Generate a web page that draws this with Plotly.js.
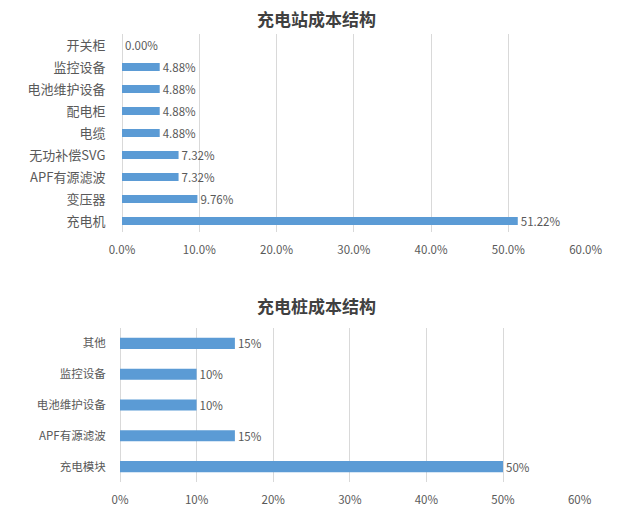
<!DOCTYPE html>
<html>
<head>
<meta charset="utf-8">
<script src="https://cdn.plot.ly/plotly-3.0.1.min.js"></script>
<style>
  html, body { margin: 0; padding: 0; background: #fff; }
  #chart { width: 640px; height: 517px; }
</style>
</head>
<body>
<div id="chart"></div>
<script>
// 充电站成本结构 (top chart), listed top to bottom
const stationItems = ['开关柜', '监控设备', '电池维护设备', '配电柜', '电缆', '无功补偿SVG', 'APF有源滤波', '变压器', '充电机'];
const stationShares = [0.00, 4.88, 4.88, 4.88, 4.88, 7.32, 7.32, 9.76, 51.22];

// 充电桩成本结构 (bottom chart), listed top to bottom
const pileItems = ['其他', '监控设备', '电池维护设备', 'APF有源滤波', '充电模块'];
const pileShares = [15, 10, 10, 15, 50];

const xTicks = [0, 10, 20, 30, 40, 50, 60];
const stationTickText = xTicks.map(v => v.toFixed(1) + '%');
const pileTickText = xTicks.map(v => v + '%');

const FONT = '"Noto Sans CJK SC", "Microsoft YaHei", sans-serif';
const BAR_COLOR = '#5B9BD5';
const TEXT_GRAY = '#595959';
const GRID = '#D9D9D9';

const traces = [
  {
    type: 'bar',
    orientation: 'h',
    y: stationItems,
    x: stationShares,
    xaxis: 'x',
    yaxis: 'y',
    width: 0.36,
    marker: { color: BAR_COLOR },
    texttemplate: '%{x:.2f}%',
    textposition: 'outside',
    constraintext: 'none',
    cliponaxis: false,
    textfont: { family: FONT, size: 11.5, color: TEXT_GRAY },
    hoverinfo: 'none'
  },
  {
    type: 'bar',
    orientation: 'h',
    y: pileItems,
    x: pileShares,
    xaxis: 'x2',
    yaxis: 'y2',
    width: 0.36,
    marker: { color: BAR_COLOR },
    texttemplate: '%{x:.0f}%',
    textposition: 'outside',
    constraintext: 'none',
    cliponaxis: false,
    textfont: { family: FONT, size: 11.5, color: TEXT_GRAY },
    hoverinfo: 'none'
  }
];

const xCommon = {
  range: [0, 60.05],
  tickmode: 'array',
  tickvals: xTicks,
  showgrid: true,
  gridcolor: GRID,
  gridwidth: 1,
  zeroline: true,
  zerolinecolor: GRID,
  zerolinewidth: 1,
  showline: false,
  ticks: 'outside',
  ticklen: 7,
  tickcolor: 'rgba(0,0,0,0)',
  tickfont: { family: FONT, size: 11.5, color: TEXT_GRAY },
  fixedrange: true
};

const layout = {
  width: 640,
  height: 517,
  paper_bgcolor: '#fff',
  plot_bgcolor: '#fff',
  margin: { t: 0, r: 0, b: 0, l: 0 },
  showlegend: false,
  font: { family: FONT, color: TEXT_GRAY },
  xaxis: Object.assign({}, xCommon, {
    domain: [122 / 640, 586 / 640],
    anchor: 'y',
    ticktext: stationTickText
  }),
  yaxis: {
    domain: [1 - 232 / 517, 1 - 34 / 517],
    anchor: 'x',
    autorange: 'reversed',
    showgrid: false,
    zeroline: false,
    ticks: 'outside',
    ticklen: 13,
    tickcolor: 'rgba(0,0,0,0)',
    tickfont: { family: FONT, size: 13, color: TEXT_GRAY },
    fixedrange: true
  },
  xaxis2: Object.assign({}, xCommon, {
    domain: [120 / 640, 580 / 640],
    anchor: 'y2',
    ticktext: pileTickText
  }),
  yaxis2: {
    domain: [1 - 482 / 517, 1 - 328 / 517],
    anchor: 'x2',
    autorange: 'reversed',
    showgrid: false,
    zeroline: false,
    ticks: 'outside',
    ticklen: 11,
    tickcolor: 'rgba(0,0,0,0)',
    tickfont: { family: FONT, size: 11.5, color: TEXT_GRAY },
    fixedrange: true
  },
  annotations: [
    {
      text: '<b>充电站成本结构</b>',
      xref: 'paper', yref: 'paper',
      x: 316 / 640, y: 1 - 18 / 517,
      xanchor: 'center', yanchor: 'middle',
      showarrow: false,
      font: { family: FONT, size: 17, color: '#404040' }
    },
    {
      text: '<b>充电桩成本结构</b>',
      xref: 'paper', yref: 'paper',
      x: 316 / 640, y: 1 - 305 / 517,
      xanchor: 'center', yanchor: 'middle',
      showarrow: false,
      font: { family: FONT, size: 17, color: '#404040' }
    }
  ]
};

Plotly.newPlot('chart', traces, layout, { displayModeBar: false, staticPlot: true });
</script>
</body>
</html>
